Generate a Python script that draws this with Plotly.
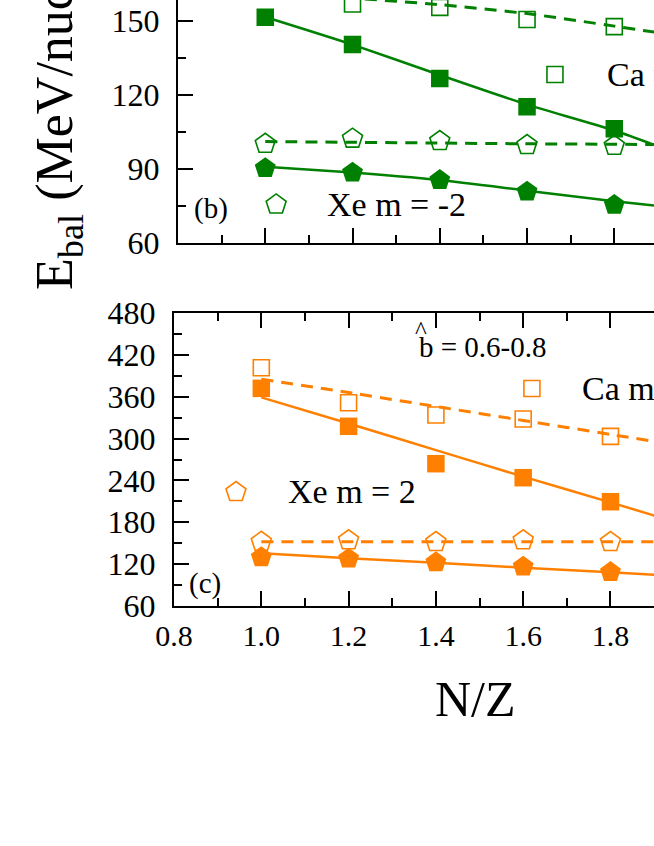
import plotly.graph_objects as go

# ---------------- data ----------------
NZ = [1.0, 1.2, 1.4, 1.6, 1.8]
NZ_FIT = [1.0, 1.2, 1.4, 1.6, 1.8, 2.0]

# panel (b): m = -2
CA_B_OPEN = [163.0, 156.8, 155.4, 150.5, 147.6]
CA_B_FILLED = [151.4, 140.4, 126.6, 115.1, 106.2]
XE_B_OPEN = [100.1, 102.2, 101.2, 99.6, 99.3]
XE_B_FILLED = [90.2, 88.4, 85.4, 80.7, 75.3]
CA_B_OPEN_FIT = [161.5, 159.2, 156.5, 152.9, 147.8, 142.5]
CA_B_FILLED_FIT = [151.5, 140.3, 128.0, 116.0, 105.5, 92.5]
XE_B_OPEN_FIT = [101.0, 100.7, 100.4, 100.1, 99.9, 99.6]
XE_B_FILLED_FIT = [90.8, 88.5, 85.4, 81.1, 76.8, 73.0]

# panel (c): m = 2
CA_C_OPEN = [401.6, 351.4, 333.8, 328.0, 303.2]
CA_C_FILLED = [372.0, 317.6, 264.0, 243.9, 209.5]
XE_C_OPEN = [152.0, 154.2, 151.7, 154.2, 151.7]
XE_C_FILLED = [129.8, 127.8, 122.6, 116.4, 108.7]
CA_C_OPEN_FIT = [385.0, 366.0, 346.0, 326.0, 306.0, 286.0]
CA_C_FILLED_FIT = [359.0, 321.5, 283.5, 245.5, 208.5, 171.0]
XE_C_OPEN_FIT = [152.0, 152.0, 152.0, 152.0, 152.0, 152.0]
XE_C_FILLED_FIT = [135.5, 128.5, 122.0, 115.0, 108.3, 101.0]

Y_TICKS_B = [60, 90, 120, 150]
Y_TICKS_C = [60, 120, 180, 240, 300, 360, 420, 480]
X_TICKS = [0.8, 1.0, 1.2, 1.4, 1.6, 1.8, 2.0]
X_TICK_LABELS = ["0.8", "1.0", "1.2", "1.4", "1.6", "1.8", "2.0"]

# ---------------- styles ----------------
GREEN = "#008000"
ORANGE = "#FF8000"
FONT = "Liberation Serif"
W, H = 654, 846

# legend key positions (panel data units)
KEY_B = {"ca": (1.664, 128.2), "xe": (1.025, 75.5)}
KEY_C = {"ca": (1.620, 371.8), "xe": (0.942, 223.4)}

fig = go.Figure()


def add_panel(xa, ya, color, ca_open, ca_filled, xe_open, xe_filled,
              ca_open_fit, ca_filled_fit, xe_open_fit, xe_filled_fit, keys):
    common = dict(xaxis=xa, yaxis=ya, showlegend=False, hoverinfo="skip")
    for fit, dash in ((ca_open_fit, "12px,8px"), (xe_open_fit, "12px,8px"),
                      (ca_filled_fit, "solid"), (xe_filled_fit, "solid")):
        fig.add_trace(go.Scatter(x=NZ_FIT, y=fit, mode="lines",
                                 line=dict(color=color, width=3 if dash != "solid" else 2.5,
                                           dash=dash, shape="spline", smoothing=0.6),
                                 **common))
    open_line = dict(color=color, width=1.6)
    fig.add_trace(go.Scatter(x=NZ, y=ca_open, mode="markers",
                             marker=dict(symbol="square-open", size=16, color=color, line=open_line),
                             **common))
    fig.add_trace(go.Scatter(x=NZ, y=xe_open, mode="markers",
                             marker=dict(symbol="pentagon-open", size=21, color=color, line=open_line),
                             **common))
    fig.add_trace(go.Scatter(x=NZ, y=ca_filled, mode="markers",
                             marker=dict(symbol="square", size=17.5, color=color, line=dict(width=0)),
                             **common))
    fig.add_trace(go.Scatter(x=NZ, y=xe_filled, mode="markers",
                             marker=dict(symbol="pentagon", size=22, color=color, line=dict(width=0)),
                             **common))
    # legend keys
    fig.add_trace(go.Scatter(x=[keys["ca"][0]], y=[keys["ca"][1]], mode="markers",
                             marker=dict(symbol="square-open", size=16, color=color, line=open_line),
                             **common))
    fig.add_trace(go.Scatter(x=[keys["xe"][0]], y=[keys["xe"][1]], mode="markers",
                             marker=dict(symbol="pentagon-open", size=21, color=color, line=open_line),
                             **common))


add_panel("x", "y", GREEN, CA_B_OPEN, CA_B_FILLED, XE_B_OPEN, XE_B_FILLED,
          CA_B_OPEN_FIT, CA_B_FILLED_FIT, XE_B_OPEN_FIT, XE_B_FILLED_FIT, KEY_B)
add_panel("x2", "y2", ORANGE, CA_C_OPEN, CA_C_FILLED, XE_C_OPEN, XE_C_FILLED,
          CA_C_OPEN_FIT, CA_C_FILLED_FIT, XE_C_OPEN_FIT, XE_C_FILLED_FIT, KEY_C)

axis_common = dict(showline=True, linewidth=2, linecolor="black", showgrid=False,
                   zeroline=False, automargin=False,
                   ticks="inside", ticklen=15, tickwidth=2, tickcolor="black",
                   tickfont=dict(family=FONT, size=32, color="black"))
minor_x = dict(dtick=0.1, tick0=0.8, ticks="inside", ticklen=8, tickwidth=2,
               tickcolor="black", showgrid=False)

fig.update_layout(
    template="none",
    width=W, height=H,
    margin=dict(l=0, r=0, t=0, b=0, pad=0),
    paper_bgcolor="white", plot_bgcolor="white",
    showlegend=False,
    xaxis=dict(domain=[178 / W, 1], range=[0.8, 1.891], anchor="y",
               tickvals=X_TICKS, showticklabels=False, minor=minor_x, **axis_common),
    yaxis=dict(domain=[1 - 242.7 / H, 1], range=[60, 158.4], anchor="x",
               tickvals=Y_TICKS_B, ticklabelstandoff=10,
               minor=dict(dtick=15, tick0=60, ticks="inside", ticklen=8, tickwidth=2,
                          tickcolor="black", showgrid=False),
               **axis_common),
    xaxis2=dict(domain=[174 / W, 1], range=[0.8, 1.8997], anchor="y2",
                tickvals=X_TICKS, ticktext=X_TICK_LABELS, mirror="ticks",
                ticklabelstandoff=2, minor=minor_x,
                **{**axis_common, "tickfont": dict(family=FONT, size=30, color="black")}),
    yaxis2=dict(domain=[1 - 606 / H, 1 - 313 / H], range=[60, 480], anchor="x2",
                tickvals=Y_TICKS_C, ticklabelstandoff=10,
                minor=dict(dtick=30, tick0=60, ticks="inside", ticklen=8, tickwidth=2,
                           tickcolor="black", showgrid=False),
                **axis_common),
)


def txt(text, px, py, size, xanchor="left", angle=0):
    fig.add_annotation(text=text, x=px / W, y=1 - py / H, xref="paper", yref="paper",
                       xanchor=xanchor, yanchor="middle", showarrow=False, textangle=angle,
                       font=dict(family=FONT, size=size, color="black"))


txt("(b)", 192, 208, 29)
txt("Xe m = -2", 325, 204, 34)
txt("Ca m = -2", 605, 74, 34)
txt("(c)", 187, 583.5, 29)
txt("Xe m = 2", 285.7, 492, 34)
txt("Ca m = 2", 580, 388.5, 34)
txt("b = 0.6-0.8", 416.7, 346.7, 29)
txt("^", 421, 330.2, 25, xanchor="center")
txt("N/Z", 475, 698.5, 50, xanchor="center")
txt("E<sub>bal</sub> (MeV/nucleon)", 59, 85, 52, xanchor="center", angle=-90)

fig.write_html(
    "out.html",
    config={"displayModeBar": False},
    post_script="document.body.style.margin='0';document.body.style.overflow='hidden';",
)
